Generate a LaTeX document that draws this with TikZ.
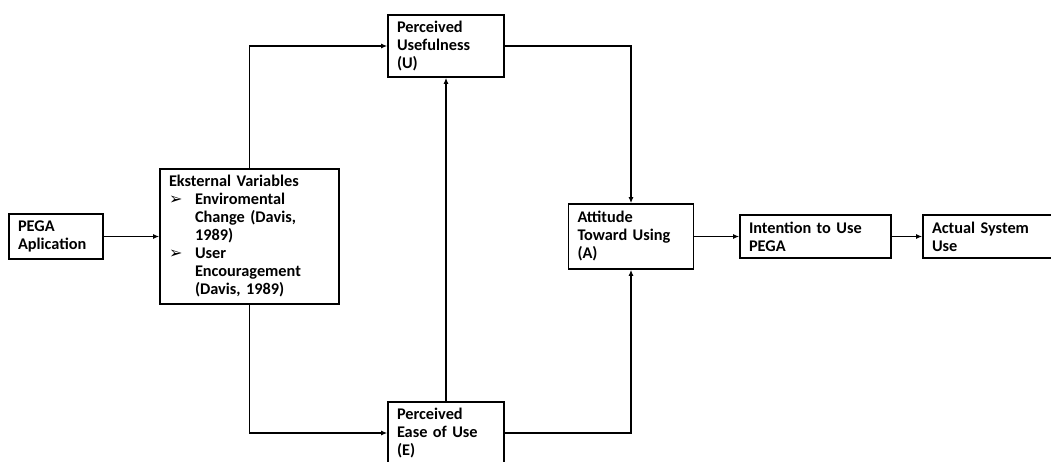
\documentclass[tikz,border=0pt]{standalone}
\usepackage{fontspec}
\setmainfont{Carlito}
\newfontfamily\symfont{DejaVu Sans}
\usetikzlibrary{positioning, arrows.meta}

\newcommand{\bul}{\makebox[26pt][l]{\symfont\fontsize{16}{18}\selectfont ➢}}
\newcommand{\ind}{\hspace*{26pt}}

\begin{document}
\begin{tikzpicture}[node distance=190pt, on grid,
  box/.style={draw, line width=1.6pt, align=left, inner xsep=9pt, inner ysep=0pt,
    font=\fontsize{16.3}{18}\selectfont\bfseries},
  link/.style={line width=1.3pt, -{Latex[length=6pt,width=5pt]}}]
  \useasboundingbox (0,0) rectangle (1051pt,-462pt);
  \clip (0,0) rectangle (1051pt,-462pt);

  \node[box, text width=76pt, minimum height=45pt] (pega) at (56pt,-236.5pt) {PEGA\\Aplication};
  \node[box, text width=161pt, minimum height=135pt] (ext) [right=193.5pt of pega]
    {Eksternal Variables\\
     \bul Enviromental\\
     \ind Change (Davis,\\
     \ind 1989)\\
     \bul User\\
     \ind Encouragement\\
     \ind (Davis, 1989)};
  \node[box, text width=98pt, minimum height=62pt] (useful) [above right=190.5pt and 196.5pt of ext]
    {Perceived\\Usefulness\\(U)};
  \node[box, text width=98pt, minimum height=62pt] (ease) [below=387pt of useful]
    {Perceived\\Ease of Use\\(E)};
  \begin{scope}[node distance=184.5pt]
  \node[box, text width=107pt, minimum height=65pt] (att) [right=381.5pt of ext]
    {Attitude\\Toward Using\\(A)};
  \node[box, text width=133pt, minimum height=43pt] (intent) [right=of att]
    {Intention to Use\\PEGA};
  \node[box, text width=133pt, minimum height=43pt] (actual) [right=183pt of intent]
    {Actual System\\Use};
  \end{scope}

  % connections
  \draw[link] (pega) -- (ext);
  \draw[link] (ext.north) |- (useful.west);
  \draw[link] (ext.south) |- (ease.west);
  \draw[link] (ease) -- (useful);
  \draw[link] (useful.east) -| (att.north);
  \draw[link] (ease.east) -| (att.south);
  \draw[link] (att) -- (intent);
  \draw[link] (intent) -- (actual);
\end{tikzpicture}
\end{document}
